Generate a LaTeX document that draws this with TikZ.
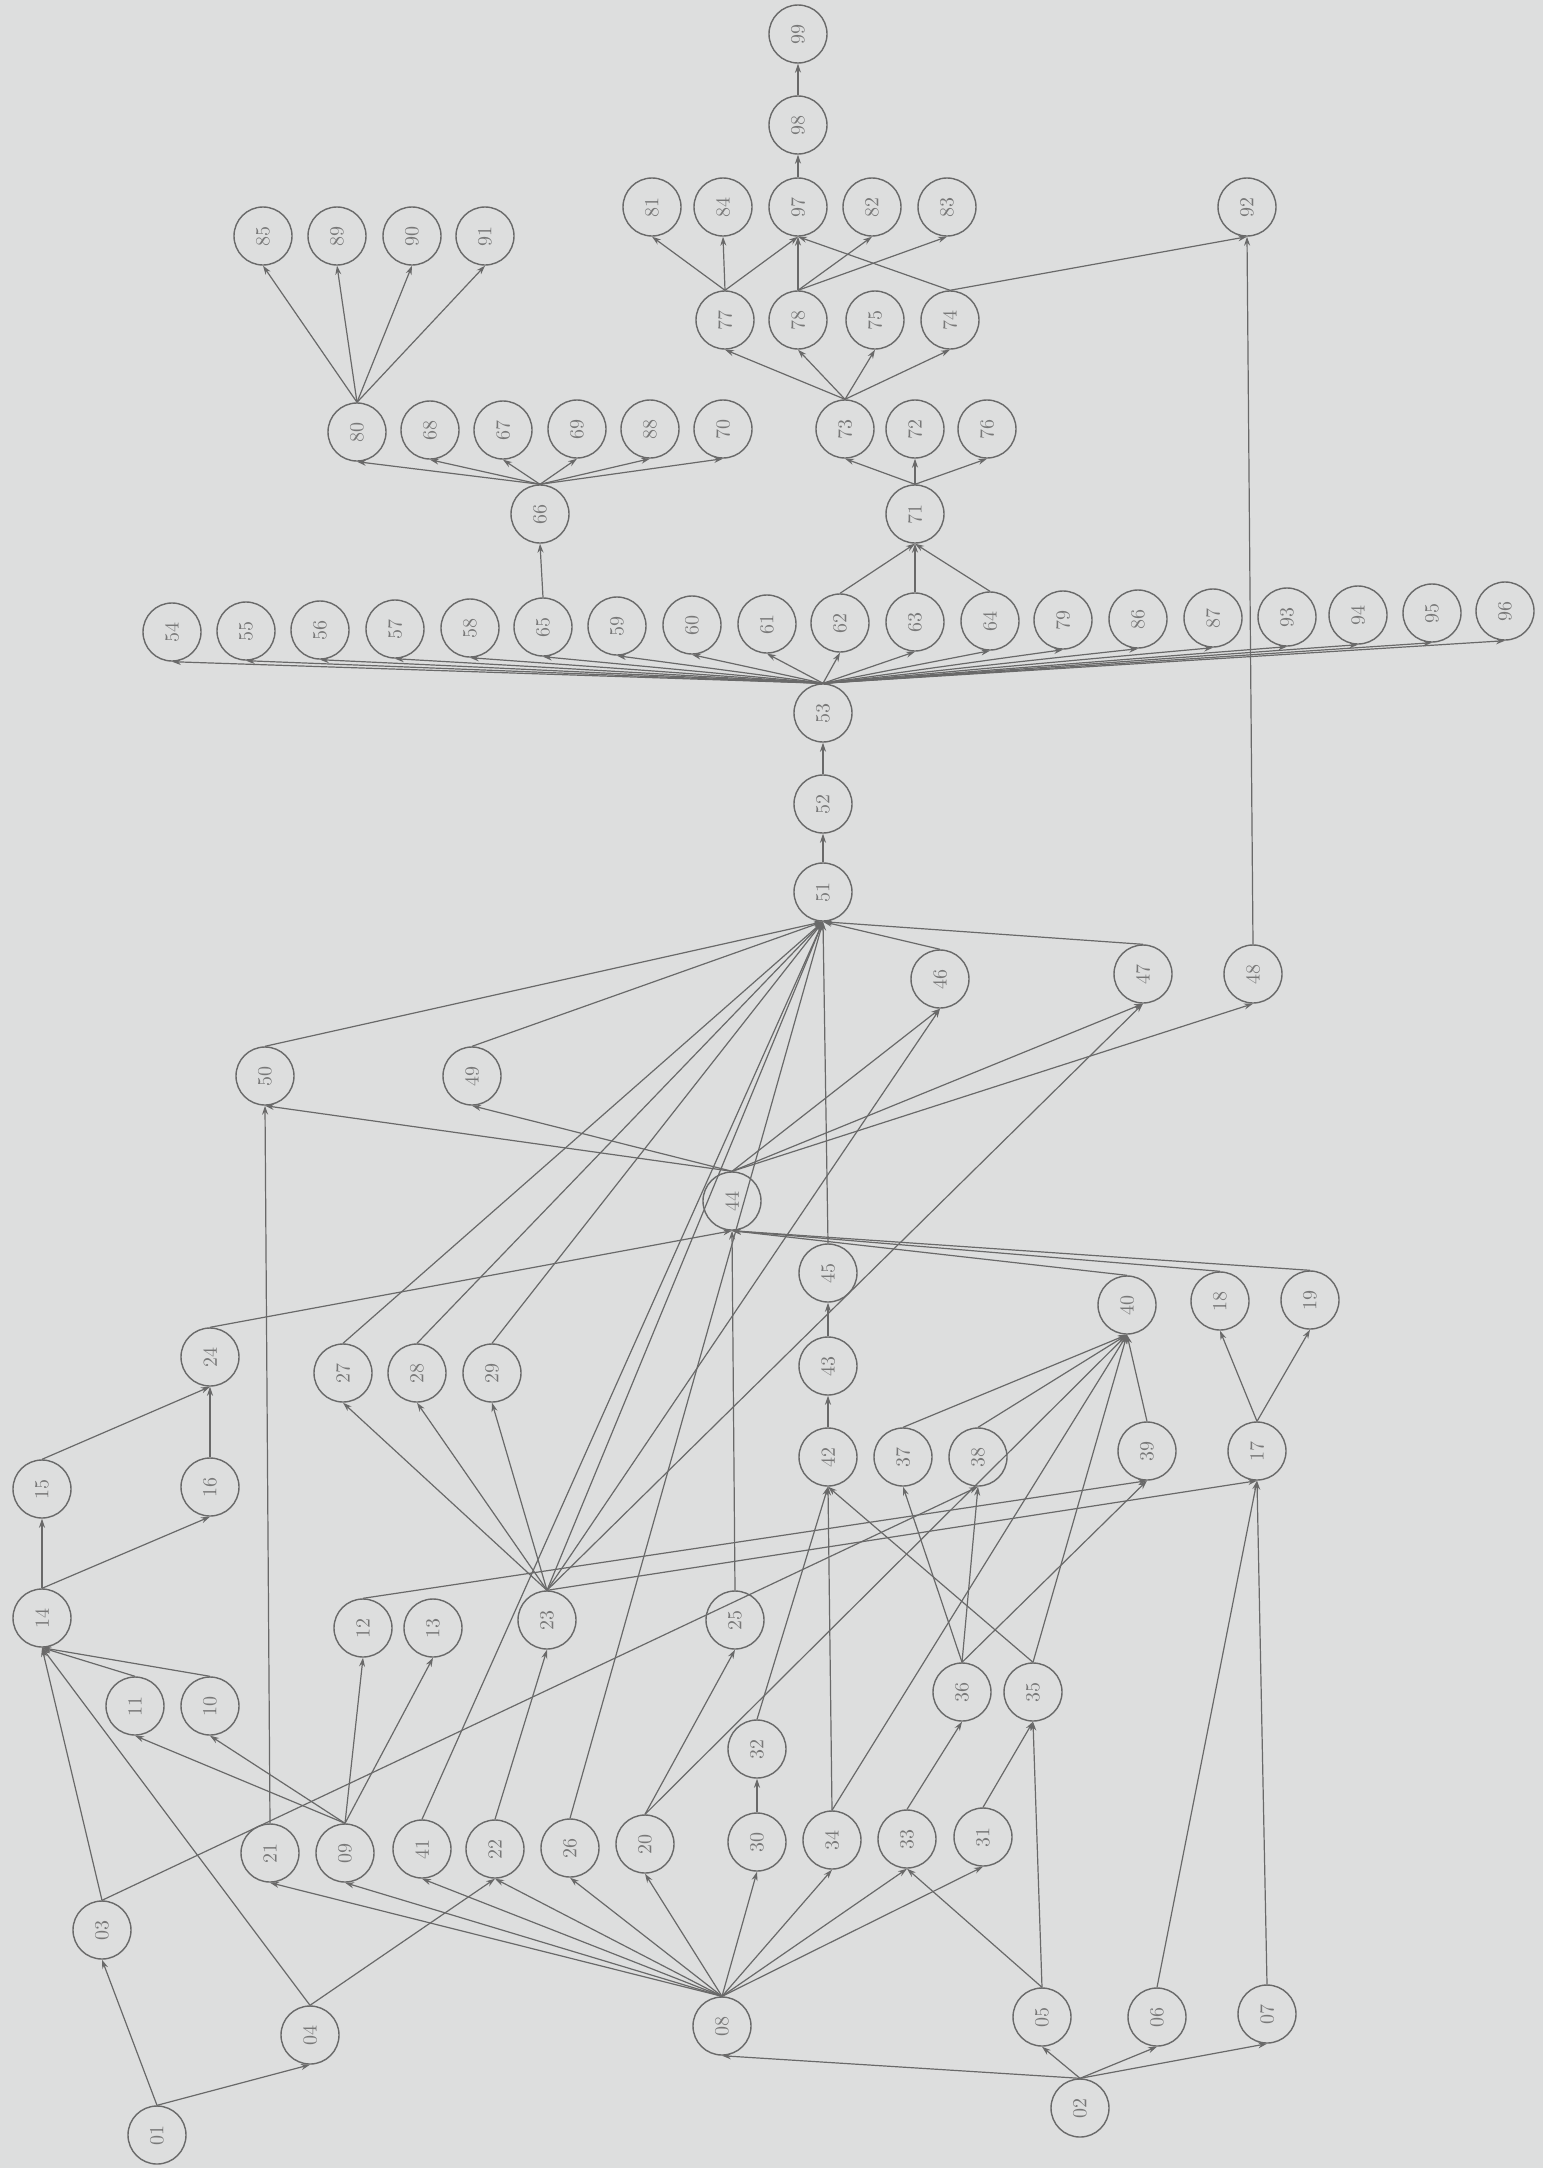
\documentclass[tikz,border=0pt]{standalone}
\usetikzlibrary{arrows.meta}
\definecolor{paper}{RGB}{221,222,222}
\definecolor{ink}{RGB}{105,105,105}
\newcommand{\vn}[1]{\rotatebox{90}{#1}}

\begin{document}
\begin{tikzpicture}[x=0.5pt, y=-0.5pt,
    act/.style={draw=ink, circle, minimum size=29pt, inner sep=0pt, line width=0.7pt, font=\fontsize{10}{10}\selectfont, text=ink!90},
    flow/.style={-{Stealth[length=4.5pt,width=3pt]}, draw=ink, line width=0.6pt}
]
    \fill[paper] (0,0) rectangle (1543,2168);
    \useasboundingbox (0,0) rectangle (1543,2168);

    % Start activities
    \node[act] (n01) at (157,2135) {\vn{01}};
    \node[act] (n02) at (1080,2108) {\vn{02}};
    \node[act] (n04) at (310,2035) {\vn{04}};
    \node[act] (n03) at (102,1930) {\vn{03}};
    \node[act] (n05) at (1042,2017) {\vn{05}};
    \node[act] (n06) at (1157,2017) {\vn{06}};
    \node[act] (n07) at (1267,2014) {\vn{07}};
    \node[act] (n08) at (722,2026) {\vn{08}};

    % Lower row
    \node[act] (n21) at (270,1853) {\vn{21}};
    \node[act] (n09) at (345,1853) {\vn{09}};
    \node[act] (n41) at (422,1849) {\vn{41}};
    \node[act] (n22) at (495,1849) {\vn{22}};
    \node[act] (n26) at (570,1848) {\vn{26}};
    \node[act] (n20) at (645,1844) {\vn{20}};
    \node[act] (n30) at (757,1842) {\vn{30}};
    \node[act] (n34) at (832,1840) {\vn{34}};
    \node[act] (n33) at (907,1839) {\vn{33}};
    \node[act] (n31) at (983,1837) {\vn{31}};
    \node[act] (n32) at (757,1749) {\vn{32}};
    \node[act] (n36) at (962,1692) {\vn{36}};
    \node[act] (n35) at (1033,1692) {\vn{35}};
    \node[act] (n11) at (135,1706) {\vn{11}};
    \node[act] (n10) at (210,1706) {\vn{10}};

    % Middle
    \node[act] (n14) at (42,1618) {\vn{14}};
    \node[act] (n12) at (363,1628) {\vn{12}};
    \node[act] (n13) at (433,1628) {\vn{13}};
    \node[act] (n23) at (547,1620) {\vn{23}};
    \node[act] (n25) at (735,1620) {\vn{25}};
    \node[act] (n15) at (42,1489) {\vn{15}};
    \node[act] (n16) at (210,1487) {\vn{16}};
    \node[act] (n24) at (210,1357) {\vn{24}};
    \node[act] (n27) at (343,1373) {\vn{27}};
    \node[act] (n28) at (417,1373) {\vn{28}};
    \node[act] (n29) at (492,1373) {\vn{29}};
    \node[act] (n42) at (828,1457) {\vn{42}};
    \node[act] (n37) at (903,1457) {\vn{37}};
    \node[act] (n38) at (978,1457) {\vn{38}};
    \node[act] (n39) at (1147,1451) {\vn{39}};
    \node[act] (n17) at (1257,1451) {\vn{17}};
    \node[act] (n43) at (828,1366) {\vn{43}};
    \node[act] (n45) at (828,1273) {\vn{45}};
    \node[act] (n40) at (1127,1305) {\vn{40}};
    \node[act] (n18) at (1220,1301) {\vn{18}};
    \node[act] (n19) at (1310,1300) {\vn{19}};
    \node[act] (n44) at (732,1201) {\vn{44}};
    \node[act] (n50) at (265,1076) {\vn{50}};
    \node[act] (n49) at (472,1076) {\vn{49}};
    \node[act] (n46) at (940,979) {\vn{46}};
    \node[act] (n47) at (1143,974) {\vn{47}};
    \node[act] (n48) at (1253,974) {\vn{48}};
    \node[act] (n51) at (823,892) {\vn{51}};
    \node[act] (n52) at (823,804) {\vn{52}};
    \node[act] (n53) at (823,713) {\vn{53}};

    % Wide row
    \node[act] (n54) at (172,632) {\vn{54}};
    \node[act] (n55) at (246,631) {\vn{55}};
    \node[act] (n56) at (320,630) {\vn{56}};
    \node[act] (n57) at (395,629) {\vn{57}};
    \node[act] (n58) at (470,628) {\vn{58}};
    \node[act] (n65) at (543,627) {\vn{65}};
    \node[act] (n59) at (617,626) {\vn{59}};
    \node[act] (n60) at (692,625) {\vn{60}};
    \node[act] (n61) at (767,624) {\vn{61}};
    \node[act] (n62) at (840,623) {\vn{62}};
    \node[act] (n63) at (915,622) {\vn{63}};
    \node[act] (n64) at (990,621) {\vn{64}};
    \node[act] (n79) at (1063,620) {\vn{79}};
    \node[act] (n86) at (1138,619) {\vn{86}};
    \node[act] (n87) at (1213,618) {\vn{87}};
    \node[act] (n93) at (1287,617) {\vn{93}};
    \node[act] (n94) at (1358,615) {\vn{94}};
    \node[act] (n95) at (1432,613) {\vn{95}};
    \node[act] (n96) at (1505,611) {\vn{96}};

    % Upper left group
    \node[act] (n66) at (540,514) {\vn{66}};
    \node[act] (n80) at (357,432) {\vn{80}};
    \node[act] (n68) at (430,430) {\vn{68}};
    \node[act] (n67) at (503,430) {\vn{67}};
    \node[act] (n69) at (577,429) {\vn{69}};
    \node[act] (n88) at (650,429) {\vn{88}};
    \node[act] (n70) at (723,429) {\vn{70}};
    \node[act] (n85) at (263,236) {\vn{85}};
    \node[act] (n89) at (337,236) {\vn{89}};
    \node[act] (n90) at (412,236) {\vn{90}};
    \node[act] (n91) at (485,236) {\vn{91}};

    % Upper right group
    \node[act] (n71) at (915,514) {\vn{71}};
    \node[act] (n73) at (845,429) {\vn{73}};
    \node[act] (n72) at (915,429) {\vn{72}};
    \node[act] (n76) at (987,429) {\vn{76}};
    \node[act] (n77) at (725,320) {\vn{77}};
    \node[act] (n78) at (798,320) {\vn{78}};
    \node[act] (n75) at (875,320) {\vn{75}};
    \node[act] (n74) at (950,320) {\vn{74}};
    \node[act] (n81) at (652,207) {\vn{81}};
    \node[act] (n84) at (723,207) {\vn{84}};
    \node[act] (n97) at (798,207) {\vn{97}};
    \node[act] (n82) at (872,207) {\vn{82}};
    \node[act] (n83) at (947,207) {\vn{83}};
    \node[act] (n98) at (798,125) {\vn{98}};
    \node[act] (n99) at (798,34) {\vn{99}};
    \node[act] (n92) at (1247,207) {\vn{92}};

    % Connectors, bottom part
    \draw[flow] (n01.north) -- (n03.south);
    \draw[flow] (n01.north) -- (n04.south);
    \draw[flow] (n03.north) -- (n14.south);
    \draw[flow] (n04.north) -- (n14.south);
    \draw[flow] (n11.north) -- (n14.south);
    \draw[flow] (n10.north) -- (n14.south);
    \draw[flow] (n03.north) -- (n38.south);
    \draw[flow] (n04.north) -- (n22.south);
    \draw[flow] (n14.north) -- (n15.south);
    \draw[flow] (n14.north) -- (n16.south);
    \draw[flow] (n15.north) -- (n24.south);
    \draw[flow] (n16.north) -- (n24.south);
    \draw[flow] (n24.north) -- (n44.south);
    \draw[flow] (n09.north) -- (n11.south);
    \draw[flow] (n09.north) -- (n10.south);
    \draw[flow] (n09.north) -- (n12.south);
    \draw[flow] (n09.north) -- (n13.south);
    \draw[flow] (n02.north) -- (n08.south);
    \draw[flow] (n02.north) -- (n05.south);
    \draw[flow] (n02.north) -- (n06.south);
    \draw[flow] (n02.north) -- (n07.south);
    \draw[flow] (n08.north) -- (n21.south);
    \draw[flow] (n08.north) -- (n09.south);
    \draw[flow] (n08.north) -- (n41.south);
    \draw[flow] (n08.north) -- (n22.south);
    \draw[flow] (n08.north) -- (n26.south);
    \draw[flow] (n08.north) -- (n20.south);
    \draw[flow] (n08.north) -- (n30.south);
    \draw[flow] (n08.north) -- (n34.south);
    \draw[flow] (n08.north) -- (n33.south);
    \draw[flow] (n08.north) -- (n31.south);
    \draw[flow] (n05.north) -- (n33.south);
    \draw[flow] (n05.north) -- (n35.south);
    \draw[flow] (n06.north) -- (n17.south);
    \draw[flow] (n07.north) -- (n17.south);
    \draw[flow] (n21.north) -- (n50.south);
    \draw[flow] (n22.north) -- (n23.south);
    \draw[flow] (n41.north) -- (n51.south);
    \draw[flow] (n26.north) -- (n51.south);
    \draw[flow] (n20.north) -- (n25.south);
    \draw[flow] (n20.north) -- (n40.south);
    \draw[flow] (n30.north) -- (n32.south);
    \draw[flow] (n32.north) -- (n42.south);
    \draw[flow] (n34.north) -- (n42.south);
    \draw[flow] (n34.north) -- (n40.south);
    \draw[flow] (n33.north) -- (n36.south);
    \draw[flow] (n31.north) -- (n35.south);
    \draw[flow] (n35.north) -- (n42.south);
    \draw[flow] (n35.north) -- (n40.south);
    \draw[flow] (n36.north) -- (n37.south);
    \draw[flow] (n36.north) -- (n38.south);
    \draw[flow] (n36.north) -- (n39.south);
    \draw[flow] (n37.north) -- (n40.south);
    \draw[flow] (n38.north) -- (n40.south);
    \draw[flow] (n39.north) -- (n40.south);
    \draw[flow] (n12.north) -- (n39.south);
    \draw[flow] (n23.north) -- (n17.south);

    % Connectors, middle part
    \draw[flow] (n23.north) -- (n27.south);
    \draw[flow] (n23.north) -- (n28.south);
    \draw[flow] (n23.north) -- (n29.south);
    \draw[flow] (n23.north) -- (n51.south);
    \draw[flow] (n23.north) -- (n46.south);
    \draw[flow] (n23.north) -- (n47.south);
    \draw[flow] (n25.north) -- (n44.south);
    \draw[flow] (n40.north) -- (n44.south);
    \draw[flow] (n18.north) -- (n44.south);
    \draw[flow] (n19.north) -- (n44.south);
    \draw[flow] (n17.north) -- (n18.south);
    \draw[flow] (n17.north) -- (n19.south);
    \draw[flow] (n42.north) -- (n43.south);
    \draw[flow] (n43.north) -- (n45.south);
    \draw[flow] (n45.north) -- (n51.south);
    \draw[flow] (n27.north) -- (n51.south);
    \draw[flow] (n28.north) -- (n51.south);
    \draw[flow] (n29.north) -- (n51.south);
    \draw[flow] (n44.north) -- (n50.south);
    \draw[flow] (n44.north) -- (n49.south);
    \draw[flow] (n44.north) -- (n46.south);
    \draw[flow] (n44.north) -- (n47.south);
    \draw[flow] (n44.north) -- (n48.south);
    \draw[flow] (n50.north) -- (n51.south);
    \draw[flow] (n49.north) -- (n51.south);
    \draw[flow] (n46.north) -- (n51.south);
    \draw[flow] (n47.north) -- (n51.south);
    \draw[flow] (n48.north) -- (n92.south);
    \draw[flow] (n51.north) -- (n52.south);
    \draw[flow] (n52.north) -- (n53.south);

    % Connectors, wide row
    \draw[flow] (n53.north) -- (n54.south);
    \draw[flow] (n53.north) -- (n55.south);
    \draw[flow] (n53.north) -- (n56.south);
    \draw[flow] (n53.north) -- (n57.south);
    \draw[flow] (n53.north) -- (n58.south);
    \draw[flow] (n53.north) -- (n65.south);
    \draw[flow] (n53.north) -- (n59.south);
    \draw[flow] (n53.north) -- (n60.south);
    \draw[flow] (n53.north) -- (n61.south);
    \draw[flow] (n53.north) -- (n62.south);
    \draw[flow] (n53.north) -- (n63.south);
    \draw[flow] (n53.north) -- (n64.south);
    \draw[flow] (n53.north) -- (n79.south);
    \draw[flow] (n53.north) -- (n86.south);
    \draw[flow] (n53.north) -- (n87.south);
    \draw[flow] (n53.north) -- (n93.south);
    \draw[flow] (n53.north) -- (n94.south);
    \draw[flow] (n53.north) -- (n95.south);
    \draw[flow] (n53.north) -- (n96.south);

    % Connectors, top part
    \draw[flow] (n65.north) -- (n66.south);
    \draw[flow] (n66.north) -- (n80.south);
    \draw[flow] (n66.north) -- (n68.south);
    \draw[flow] (n66.north) -- (n67.south);
    \draw[flow] (n66.north) -- (n69.south);
    \draw[flow] (n66.north) -- (n88.south);
    \draw[flow] (n66.north) -- (n70.south);
    \draw[flow] (n80.north) -- (n85.south);
    \draw[flow] (n80.north) -- (n89.south);
    \draw[flow] (n80.north) -- (n90.south);
    \draw[flow] (n80.north) -- (n91.south);
    \draw[flow] (n62.north) -- (n71.south);
    \draw[flow] (n63.north) -- (n71.south);
    \draw[flow] (n64.north) -- (n71.south);
    \draw[flow] (n71.north) -- (n73.south);
    \draw[flow] (n71.north) -- (n72.south);
    \draw[flow] (n71.north) -- (n76.south);
    \draw[flow] (n73.north) -- (n77.south);
    \draw[flow] (n73.north) -- (n78.south);
    \draw[flow] (n73.north) -- (n75.south);
    \draw[flow] (n73.north) -- (n74.south);
    \draw[flow] (n77.north) -- (n81.south);
    \draw[flow] (n77.north) -- (n84.south);
    \draw[flow] (n77.north) -- (n97.south);
    \draw[flow] (n78.north) -- (n97.south);
    \draw[flow] (n78.north) -- (n82.south);
    \draw[flow] (n78.north) -- (n83.south);
    \draw[flow] (n74.north) -- (n97.south);
    \draw[flow] (n74.north) -- (n92.south);
    \draw[flow] (n97.north) -- (n98.south);
    \draw[flow] (n98.north) -- (n99.south);
\end{tikzpicture}
\end{document}
